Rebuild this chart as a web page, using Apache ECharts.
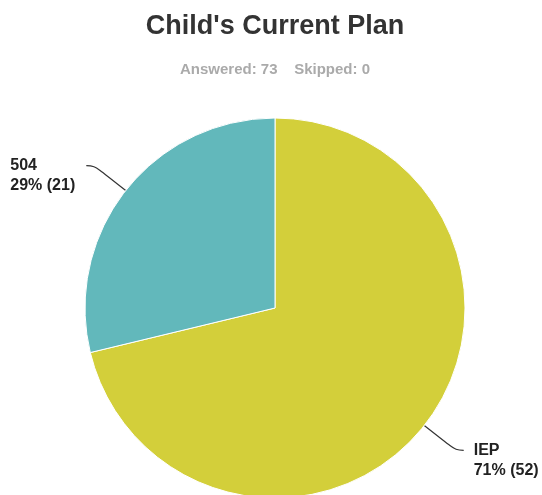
<!DOCTYPE html>
<html lang="en">
<head>
    <meta charset="UTF-8"/>
    <title>Child's Current Plan</title>
    <script src="https://cdn.jsdelivr.net/npm/echarts@6/dist/echarts.min.js"></script>
    <style>
        html, body { margin: 0; padding: 0; background: #fff; }
    </style>
</head>
<body>
<div id="main" style="width: 542px;height:495px;"></div>

<script type="text/javascript">
    var categories = ['IEP', '504'];
    var counts = [52, 21];
    var colors = ['#d3cf3a', '#62b8bb'];
    var answered = 73;
    var skipped = 0;

    var pieData = [];
    for (var i = 0; i < categories.length; i++) {
        pieData.push({ name: categories[i], value: counts[i], itemStyle: { color: colors[i] } });
    }

    var myChart = echarts.init(document.getElementById('main'));
    var option = {
        animation: false,
        title: {
            text: "Child's Current Plan",
            subtext: 'Answered: ' + answered + '    Skipped: ' + skipped,
            left: 270,
            textAlign: 'center',
            top: 8,
            itemGap: 22,
            textStyle: { fontFamily: 'Liberation Sans', fontSize: 27, fontWeight: 'bold', color: '#333' },
            subtextStyle: { fontFamily: 'Liberation Sans', fontSize: 15, fontWeight: 'bold', color: '#aaa' }
        },
        series: [
            {
                type: 'pie',
                radius: 190,
                center: [275, 308],
                startAngle: 90,
                clockwise: true,
                data: pieData,
                itemStyle: { borderColor: '#fff', borderWidth: 1 },
                label: {
                    show: true,
                    position: 'outside',
                    distanceToLabelLine: 10,
                    overflow: 'none',
                    padding: [20, 0, 0, 0],
                    formatter: function (p) {
                        return '{t|' + p.name + '}\n{t|' + Math.round(p.percent) + '% (' + p.value + ')}';
                    },
                    rich: {
                        t: { fontFamily: 'Liberation Sans', fontSize: 16, fontWeight: 'bold', color: '#222', width: 66, align: 'left', lineHeight: 20 }
                    }
                },
                labelLine: {
                    show: true,
                    length: 40,
                    length2: 8,
                    smooth: 0.4,
                    lineStyle: { color: '#333', width: 1.2 }
                },
                emphasis: { disabled: true }
            }
        ]
    };
    myChart.setOption(option);
</script>
</body>
</html>
